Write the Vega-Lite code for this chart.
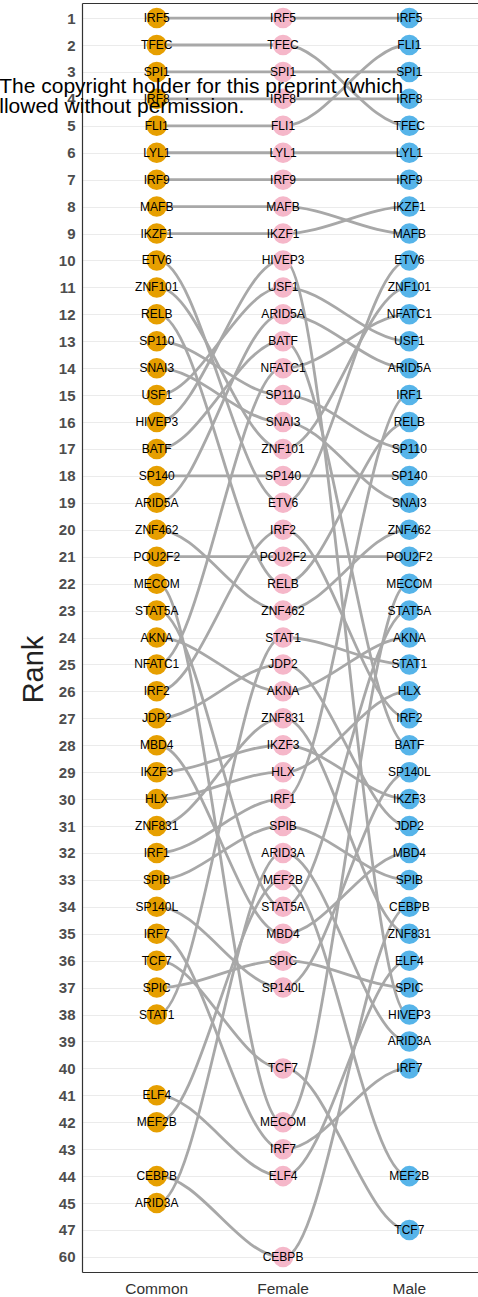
{
  "$schema": "https://vega.github.io/schema/vega-lite/v6.json",
  "width": 396,
  "height": 1269,
  "autosize": {"type": "none"},
  "padding": {"left": 82, "top": 3, "right": 0, "bottom": 25},
  "background": "white",
  "config": {"view": {"stroke": null}, "font": "Liberation Sans"},
  "data": {"values": [
    {"tf": "IRF5", "group": "Common", "rank": 1},
    {"tf": "TFEC", "group": "Common", "rank": 2},
    {"tf": "SPI1", "group": "Common", "rank": 3},
    {"tf": "IRF8", "group": "Common", "rank": 4},
    {"tf": "FLI1", "group": "Common", "rank": 5},
    {"tf": "LYL1", "group": "Common", "rank": 6},
    {"tf": "IRF9", "group": "Common", "rank": 7},
    {"tf": "MAFB", "group": "Common", "rank": 8},
    {"tf": "IKZF1", "group": "Common", "rank": 9},
    {"tf": "ETV6", "group": "Common", "rank": 10},
    {"tf": "ZNF101", "group": "Common", "rank": 11},
    {"tf": "RELB", "group": "Common", "rank": 12},
    {"tf": "SP110", "group": "Common", "rank": 13},
    {"tf": "SNAI3", "group": "Common", "rank": 14},
    {"tf": "USF1", "group": "Common", "rank": 15},
    {"tf": "HIVEP3", "group": "Common", "rank": 16},
    {"tf": "BATF", "group": "Common", "rank": 17},
    {"tf": "SP140", "group": "Common", "rank": 18},
    {"tf": "ARID5A", "group": "Common", "rank": 19},
    {"tf": "ZNF462", "group": "Common", "rank": 20},
    {"tf": "POU2F2", "group": "Common", "rank": 21},
    {"tf": "MECOM", "group": "Common", "rank": 22},
    {"tf": "STAT5A", "group": "Common", "rank": 23},
    {"tf": "AKNA", "group": "Common", "rank": 24},
    {"tf": "NFATC1", "group": "Common", "rank": 25},
    {"tf": "IRF2", "group": "Common", "rank": 26},
    {"tf": "JDP2", "group": "Common", "rank": 27},
    {"tf": "MBD4", "group": "Common", "rank": 28},
    {"tf": "IKZF3", "group": "Common", "rank": 29},
    {"tf": "HLX", "group": "Common", "rank": 30},
    {"tf": "ZNF831", "group": "Common", "rank": 31},
    {"tf": "IRF1", "group": "Common", "rank": 32},
    {"tf": "SPIB", "group": "Common", "rank": 33},
    {"tf": "SP140L", "group": "Common", "rank": 34},
    {"tf": "IRF7", "group": "Common", "rank": 35},
    {"tf": "TCF7", "group": "Common", "rank": 36},
    {"tf": "SPIC", "group": "Common", "rank": 37},
    {"tf": "STAT1", "group": "Common", "rank": 38},
    {"tf": "ELF4", "group": "Common", "rank": 41},
    {"tf": "MEF2B", "group": "Common", "rank": 42},
    {"tf": "CEBPB", "group": "Common", "rank": 44},
    {"tf": "ARID3A", "group": "Common", "rank": 45},
    {"tf": "IRF5", "group": "Female", "rank": 1},
    {"tf": "TFEC", "group": "Female", "rank": 2},
    {"tf": "SPI1", "group": "Female", "rank": 3},
    {"tf": "IRF8", "group": "Female", "rank": 4},
    {"tf": "FLI1", "group": "Female", "rank": 5},
    {"tf": "LYL1", "group": "Female", "rank": 6},
    {"tf": "IRF9", "group": "Female", "rank": 7},
    {"tf": "MAFB", "group": "Female", "rank": 8},
    {"tf": "IKZF1", "group": "Female", "rank": 9},
    {"tf": "HIVEP3", "group": "Female", "rank": 10},
    {"tf": "USF1", "group": "Female", "rank": 11},
    {"tf": "ARID5A", "group": "Female", "rank": 12},
    {"tf": "BATF", "group": "Female", "rank": 13},
    {"tf": "NFATC1", "group": "Female", "rank": 14},
    {"tf": "SP110", "group": "Female", "rank": 15},
    {"tf": "SNAI3", "group": "Female", "rank": 16},
    {"tf": "ZNF101", "group": "Female", "rank": 17},
    {"tf": "SP140", "group": "Female", "rank": 18},
    {"tf": "ETV6", "group": "Female", "rank": 19},
    {"tf": "IRF2", "group": "Female", "rank": 20},
    {"tf": "POU2F2", "group": "Female", "rank": 21},
    {"tf": "RELB", "group": "Female", "rank": 22},
    {"tf": "ZNF462", "group": "Female", "rank": 23},
    {"tf": "STAT1", "group": "Female", "rank": 24},
    {"tf": "JDP2", "group": "Female", "rank": 25},
    {"tf": "AKNA", "group": "Female", "rank": 26},
    {"tf": "ZNF831", "group": "Female", "rank": 27},
    {"tf": "IKZF3", "group": "Female", "rank": 28},
    {"tf": "HLX", "group": "Female", "rank": 29},
    {"tf": "IRF1", "group": "Female", "rank": 30},
    {"tf": "SPIB", "group": "Female", "rank": 31},
    {"tf": "ARID3A", "group": "Female", "rank": 32},
    {"tf": "MEF2B", "group": "Female", "rank": 33},
    {"tf": "STAT5A", "group": "Female", "rank": 34},
    {"tf": "MBD4", "group": "Female", "rank": 35},
    {"tf": "SPIC", "group": "Female", "rank": 36},
    {"tf": "SP140L", "group": "Female", "rank": 37},
    {"tf": "TCF7", "group": "Female", "rank": 40},
    {"tf": "MECOM", "group": "Female", "rank": 42},
    {"tf": "IRF7", "group": "Female", "rank": 43},
    {"tf": "ELF4", "group": "Female", "rank": 44},
    {"tf": "CEBPB", "group": "Female", "rank": 60},
    {"tf": "IRF5", "group": "Male", "rank": 1},
    {"tf": "FLI1", "group": "Male", "rank": 2},
    {"tf": "SPI1", "group": "Male", "rank": 3},
    {"tf": "IRF8", "group": "Male", "rank": 4},
    {"tf": "TFEC", "group": "Male", "rank": 5},
    {"tf": "LYL1", "group": "Male", "rank": 6},
    {"tf": "IRF9", "group": "Male", "rank": 7},
    {"tf": "IKZF1", "group": "Male", "rank": 8},
    {"tf": "MAFB", "group": "Male", "rank": 9},
    {"tf": "ETV6", "group": "Male", "rank": 10},
    {"tf": "ZNF101", "group": "Male", "rank": 11},
    {"tf": "NFATC1", "group": "Male", "rank": 12},
    {"tf": "USF1", "group": "Male", "rank": 13},
    {"tf": "ARID5A", "group": "Male", "rank": 14},
    {"tf": "IRF1", "group": "Male", "rank": 15},
    {"tf": "RELB", "group": "Male", "rank": 16},
    {"tf": "SP110", "group": "Male", "rank": 17},
    {"tf": "SP140", "group": "Male", "rank": 18},
    {"tf": "SNAI3", "group": "Male", "rank": 19},
    {"tf": "ZNF462", "group": "Male", "rank": 20},
    {"tf": "POU2F2", "group": "Male", "rank": 21},
    {"tf": "MECOM", "group": "Male", "rank": 22},
    {"tf": "STAT5A", "group": "Male", "rank": 23},
    {"tf": "AKNA", "group": "Male", "rank": 24},
    {"tf": "STAT1", "group": "Male", "rank": 25},
    {"tf": "HLX", "group": "Male", "rank": 26},
    {"tf": "IRF2", "group": "Male", "rank": 27},
    {"tf": "BATF", "group": "Male", "rank": 28},
    {"tf": "SP140L", "group": "Male", "rank": 29},
    {"tf": "IKZF3", "group": "Male", "rank": 30},
    {"tf": "JDP2", "group": "Male", "rank": 31},
    {"tf": "MBD4", "group": "Male", "rank": 32},
    {"tf": "SPIB", "group": "Male", "rank": 33},
    {"tf": "CEBPB", "group": "Male", "rank": 34},
    {"tf": "ZNF831", "group": "Male", "rank": 35},
    {"tf": "ELF4", "group": "Male", "rank": 36},
    {"tf": "SPIC", "group": "Male", "rank": 37},
    {"tf": "HIVEP3", "group": "Male", "rank": 38},
    {"tf": "ARID3A", "group": "Male", "rank": 39},
    {"tf": "IRF7", "group": "Male", "rank": 40},
    {"tf": "MEF2B", "group": "Male", "rank": 44},
    {"tf": "TCF7", "group": "Male", "rank": 47}
  ]},
  "layer": [
    {
      "transform": [
        {"fold": ["rank", "rank"], "as": ["dup", "r"]},
        {"window": [{"op": "row_number", "as": "k"}], "groupby": ["tf", "group"]}
      ],
      "mark": {"type": "line", "interpolate": "monotone", "color": "#A8A8A8", "strokeWidth": 2.8, "strokeCap": "round"},
      "encoding": {
        "x": {
          "field": "group", "type": "nominal",
          "scale": {"type": "band", "domain": ["Common", "Female", "Male"], "paddingInner": 0.96, "paddingOuter": 0.5475, "align": 0.522},
          "axis": {"orient": "bottom", "title": null, "labelAngle": 0, "labelFontSize": 15.5, "labelColor": "#333333", "labelPadding": 9, "ticks": false, "tickSize": 0, "domain": true, "domainColor": "#333333", "domainWidth": 1.2, "grid": false}
        },
        "xOffset": {"field": "k", "type": "nominal"},
        "y": {
          "field": "r", "type": "ordinal",
          "scale": {"type": "point", "padding": 0.56, "domain": [1,2,3,4,5,6,7,8,9,10,11,12,13,14,15,16,17,18,19,20,21,22,23,24,25,26,27,28,29,30,31,32,33,34,35,36,37,38,39,40,41,42,43,44,45,47,60]},
          "axis": {"title": "Rank", "grid": true, "gridColor": "#EBEBEB", "gridWidth": 1, "domain": true, "domainColor": "#333333", "domainWidth": 1.2, "ticks": false, "tickSize": 0, "labelFontWeight": "bold", "labelFontSize": 15, "labelColor": "#4D4D4D", "labelPadding": 7, "titleFontSize": 29, "titleFontWeight": "normal", "titleColor": "#222222", "titleX": -40, "titleY": 666, "titleBaseline": "alphabetic"}
        },
        "detail": {"field": "tf"},
        "order": [{"field": "group"}, {"field": "k"}]
      }
    },
    {
      "mark": {"type": "circle", "size": 420, "opacity": 1},
      "encoding": {
        "x": {"field": "group", "type": "nominal", "axis": null},
        "y": {"field": "rank", "type": "ordinal"},
        "color": {"field": "group", "type": "nominal", "legend": null, "scale": {"domain": ["Common", "Female", "Male"], "range": ["#E69F00", "#F5B7C9", "#56B4E9"]}}
      }
    },
    {
      "mark": {"type": "text", "fontSize": 12, "color": "#000000", "align": "center", "baseline": "middle", "font": "Liberation Sans"},
      "encoding": {
        "x": {"field": "group", "type": "nominal", "axis": null},
        "y": {"field": "rank", "type": "ordinal"},
        "text": {"field": "tf"}
      }
    },
    {
      "data": {"values": [{"note": "preprint"}]},
      "mark": {"type": "text", "text": ["The copyright holder for this preprint (which", "llowed without permission."], "fontSize": 21, "lineHeight": 20, "align": "left", "baseline": "alphabetic", "color": "#000000", "dx": -157.5, "dy": 21.3, "font": "Liberation Sans"},
      "encoding": {
        "x": {"datum": "Common", "type": "nominal", "axis": {"orient": "top", "title": null, "labels": false, "ticks": false, "domain": true, "domainColor": "#333333", "domainWidth": 1.2, "grid": false}},
        "y": {"datum": 3, "type": "ordinal"}
      }
    }
  ],
  "resolve": {"axis": {"x": "independent"}}
}
